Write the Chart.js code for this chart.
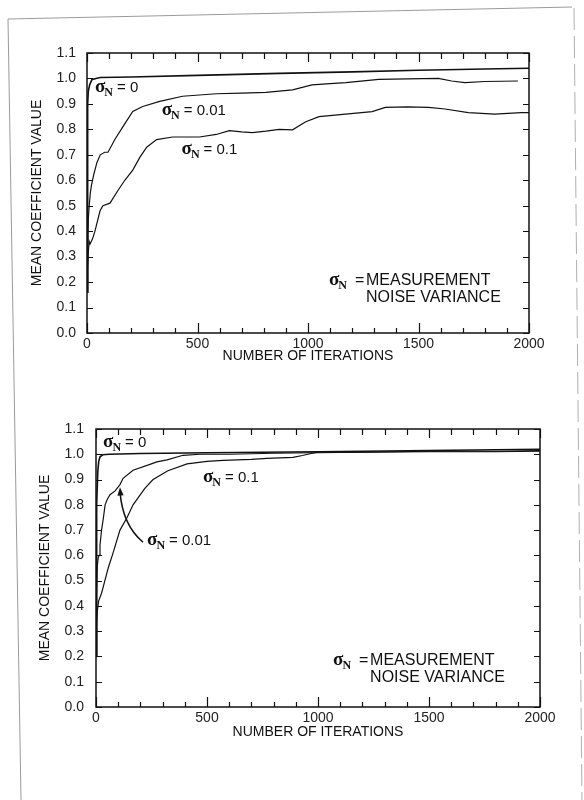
<!DOCTYPE html>
<html><head><meta charset="utf-8">
<script src="https://cdn.jsdelivr.net/npm/chart.js@4/dist/chart.umd.min.js"></script>
<style>
html,body{margin:0;padding:0;background:#fff;}
#wrap{position:relative;width:584px;height:800px;overflow:hidden;background:#fff;}
canvas{position:absolute;left:0;}
#c1{top:0;}
#c2{top:400px;}
svg{position:absolute;left:0;top:0;}
</style></head><body>
<div id="wrap">
<svg width="584" height="800">
  <line x1="8" y1="19" x2="572" y2="7" stroke="#9a9a9a" stroke-width="1"/>
  <line x1="8" y1="19" x2="21" y2="800" stroke="#9a9a9a" stroke-width="1"/>
  <line x1="574" y1="8" x2="582" y2="800" stroke="#b0b0b0" stroke-width="1" stroke-dasharray="22,6"/>
</svg>
<canvas id="c1" width="584" height="400"></canvas>
<canvas id="c2" width="584" height="400"></canvas>
</div>
<script>
// ---------- tick labels ----------
const xTickValues = [0, 500, 1000, 1500, 2000];
const xTickLabels = ['0', '500', '1000', '1500', '2000'];
const yTickValues = [0, 0.1, 0.2, 0.3, 0.4, 0.5, 0.6, 0.7, 0.8, 0.9, 1.0, 1.1];
const yTickLabels = ['0.0','0.1','0.2','0.3','0.4','0.5','0.6','0.7','0.8','0.9','1.0','1.1'];

// ---------- top chart series ----------
const topIterS0 = [0, 2, 4, 6, 12, 22, 40, 60, 200, 500, 870, 1200, 1500, 1800, 2000];
const topValS0  = [0.16, 0.55, 0.9, 0.95, 0.975, 0.995, 1.0, 1.004, 1.006, 1.012, 1.02, 1.026, 1.032, 1.037, 1.04];

const topIterS1 = [0, 3, 6, 10, 15, 20, 30, 45, 60, 80, 95, 126, 162, 207, 252, 329, 432, 585, 700, 810, 870, 930, 1018, 1100, 1171, 1320, 1450, 1590, 1650, 1710, 1800, 1950];
const topValS1  = [0.16, 0.3, 0.45, 0.5, 0.55, 0.58, 0.62, 0.67, 0.7, 0.71, 0.71, 0.76, 0.81, 0.87, 0.89, 0.91, 0.93, 0.94, 0.942, 0.945, 0.95, 0.955, 0.975, 0.98, 0.984, 0.996, 0.998, 1.0, 0.99, 0.984, 0.988, 0.99];

const topIterS2 = [0, 3, 6, 10, 14, 25, 36, 59, 72, 104, 140, 171, 207, 239, 270, 315, 387, 509, 585, 644, 700, 748, 810, 870, 930, 990, 1050, 1170, 1290, 1350, 1450, 1545, 1620, 1725, 1845, 1965, 2000];
const topValS2  = [0.16, 0.25, 0.32, 0.36, 0.35, 0.37, 0.4, 0.48, 0.5, 0.51, 0.56, 0.6, 0.64, 0.69, 0.73, 0.76, 0.77, 0.77, 0.78, 0.795, 0.79, 0.787, 0.793, 0.8, 0.798, 0.83, 0.85, 0.86, 0.87, 0.886, 0.888, 0.886, 0.88, 0.866, 0.86, 0.866, 0.866];

// ---------- bottom chart series ----------
const botIterS0 = [0, 2, 4, 8, 12, 18, 30, 60, 200, 500, 1000, 1500, 2000];
const botValS0  = [0.2, 0.5, 0.8, 0.93, 0.97, 0.99, 0.998, 1.0, 1.003, 1.006, 1.01, 1.015, 1.02];

const botIterS1 = [0, 3, 6, 10, 14, 18, 25, 32, 41, 50, 63, 86, 108, 122, 167, 243, 274, 320, 392, 468, 600, 800, 1000, 1200, 1500, 1800, 2000];
const botValS1  = [0.2, 0.45, 0.56, 0.59, 0.6, 0.64, 0.7, 0.74, 0.8, 0.82, 0.84, 0.855, 0.88, 0.905, 0.937, 0.96, 0.97, 0.978, 0.996, 1.0, 1.0, 1.004, 1.006, 1.008, 1.01, 1.01, 1.012];

const botIterS2 = [0, 3, 6, 12, 25, 40, 55, 77, 108, 140, 167, 220, 257, 324, 410, 500, 572, 700, 770, 887, 930, 964, 1000, 1200, 1500, 1800, 2000];
const botValS2  = [0.2, 0.33, 0.38, 0.42, 0.45, 0.5, 0.55, 0.61, 0.7, 0.75, 0.8, 0.865, 0.9, 0.935, 0.962, 0.972, 0.976, 0.98, 0.984, 0.988, 0.995, 1.002, 1.008, 1.008, 1.012, 1.012, 1.015];

// ---------- series labels ----------
const seriesNames = ['σN = 0', 'σN = 0.01', 'σN = 0.1'];
const labelTexts = ['= 0', '= 0.01', '= 0.1'];

function pts(xs, ys) { return xs.map((x, i) => ({x: x, y: ys[i]})); }

const SANS = '"Liberation Sans", Arial, Helvetica, sans-serif';
const SERIF = '"Liberation Serif", "Times New Roman", serif';

function sigmaLabel(ctx, x, y, rest, restFont, gap) {
  ctx.save();
  ctx.fillStyle = '#111';
  ctx.textAlign = 'left';
  ctx.textBaseline = 'alphabetic';
  ctx.font = 'bold 19px ' + SERIF;
  ctx.fillText('σ', x, y);
  const w1 = ctx.measureText('σ').width;
  ctx.font = 'bold 12px ' + SERIF;
  ctx.fillText('N', x + w1 - 1, y + 4);
  const w2 = ctx.measureText('N').width;
  ctx.font = restFont;
  ctx.fillText(rest, x + w1 - 1 + w2 + gap, y);
  ctx.restore();
}

const framePlugin = {
  id: 'frame',
  afterDatasetsDraw(chart, args, opts) {
    const ctx = chart.ctx;
    const xs = chart.scales.x, ys = chart.scales.y;
    const a = chart.chartArea;
    ctx.save();
    ctx.strokeStyle = '#111';
    ctx.lineWidth = 1.5;
    ctx.strokeRect(a.left, a.top, a.right - a.left, a.bottom - a.top);
    ctx.lineWidth = 1.2;
    ctx.beginPath();
    for (let v = 0; v <= 2000; v += 100) {
      const px = Math.round(xs.getPixelForValue(v)) + 0.5;
      const major = v % 500 === 0;
      const lb = major ? 10 : 5, lt = major ? 9 : 6;
      ctx.moveTo(px, a.bottom); ctx.lineTo(px, a.bottom - lb);
      ctx.moveTo(px, a.top); ctx.lineTo(px, a.top + lt);
    }
    for (let k = 0; k <= 11; k++) {
      const py = Math.round(ys.getPixelForValue(k / 10)) + 0.5;
      ctx.moveTo(a.left, py); ctx.lineTo(a.left + 6, py);
      ctx.moveTo(a.right, py); ctx.lineTo(a.right - 6, py);
    }
    ctx.stroke();

    (opts.labels || []).forEach(l => {
      const px = xs.getPixelForValue(l.iter), py = ys.getPixelForValue(l.val);
      sigmaLabel(ctx, px, py, l.text, '15px ' + SANS, 4);
    });

    if (opts.legend) {
      const l = opts.legend;
      const px = xs.getPixelForValue(l.iter), py = ys.getPixelForValue(l.val);
      sigmaLabel(ctx, px, py, '', '16px ' + SANS, 0);
      ctx.fillStyle = '#111';
      ctx.font = '16px ' + SANS;
      ctx.textAlign = 'left';
      ctx.textBaseline = 'alphabetic';
      ctx.fillText('=', px + 26, py);
      ctx.fillText('MEASUREMENT', px + 37, py);
      ctx.fillText('NOISE VARIANCE', px + 37, py + 17);
    }

    if (opts.arrow) {
      const r = opts.arrow;
      const tx = xs.getPixelForValue(r.tail[0]), ty = ys.getPixelForValue(r.tail[1]);
      const cx = xs.getPixelForValue(r.ctrl[0]), cy = ys.getPixelForValue(r.ctrl[1]);
      const hx = xs.getPixelForValue(r.tip[0]), hy = ys.getPixelForValue(r.tip[1]);
      ctx.strokeStyle = '#111';
      ctx.lineWidth = 1.5;
      ctx.beginPath();
      ctx.moveTo(tx, ty);
      ctx.quadraticCurveTo(cx, cy, hx, hy + 4);
      ctx.stroke();
      const ang = Math.atan2(hy - cy, hx - cx);
      ctx.fillStyle = '#111';
      ctx.beginPath();
      ctx.moveTo(hx, hy);
      ctx.lineTo(hx - 9 * Math.cos(ang - 0.35), hy - 9 * Math.sin(ang - 0.35));
      ctx.lineTo(hx - 9 * Math.cos(ang + 0.35), hy - 9 * Math.sin(ang + 0.35));
      ctx.closePath();
      ctx.fill();
    }
    ctx.restore();
  }
};

function makeChart(id, series, geo, frameOpts) {
  const ds = series.map((s, i) => ({
    label: seriesNames[i],
    data: pts(s[0], s[1]),
    borderColor: '#111',
    borderWidth: i === 0 ? 1.6 : 1.2,
    pointRadius: 0,
    tension: 0,
    fill: false
  }));
  return new Chart(document.getElementById(id), {
    type: 'line',
    data: { datasets: ds },
    plugins: [framePlugin],
    options: {
      responsive: false,
      animation: false,
      devicePixelRatio: 1,
      layout: { padding: { left: geo.padL, right: geo.padR, top: geo.padT, bottom: geo.padB } },
      plugins: { legend: { display: false }, tooltip: { enabled: false }, frame: frameOpts },
      scales: {
        x: {
          type: 'linear', min: 0, max: 2000,
          grid: { display: false, drawTicks: false },
          border: { display: false },
          afterBuildTicks: s => { s.ticks = xTickValues.map(v => ({ value: v })); },
          ticks: { color: '#222', font: { family: SANS, size: 14 }, padding: 3, maxRotation: 0,
                   callback: (v) => xTickLabels[xTickValues.indexOf(v)] },
          title: { display: true, text: 'NUMBER OF ITERATIONS', color: '#111',
                   font: { family: SANS, size: 14 }, padding: { top: 0, bottom: geo.xtPad } },
          afterFit: s => { s.height = geo.xH; }
        },
        y: {
          type: 'linear', min: 0, max: 1.1,
          grid: { display: false, drawTicks: false },
          border: { display: false },
          afterBuildTicks: s => { s.ticks = yTickValues.map(v => ({ value: v })); },
          ticks: { color: '#222', font: { family: SANS, size: 14 }, padding: geo.ytPad,
                   callback: (v) => yTickLabels[yTickValues.findIndex(t => Math.abs(t - v) < 1e-6)] },
          title: { display: true, text: 'MEAN COEFFICIENT VALUE', color: '#111',
                   font: { family: SANS, size: 14 }, padding: { top: 4, bottom: 0 } },
          afterFit: s => { s.width = geo.yW; }
        }
      }
    }
  });
}

makeChart('c1',
  [[topIterS0, topValS0], [topIterS1, topValS1], [topIterS2, topValS2]],
  { padL: 25, padR: 55, padT: 53, padB: 30, xH: 37, xtPad: 5, yW: 62, ytPad: 11 },
  {
    labels: [
      { iter: 36, val: 0.945, text: labelTexts[0] },
      { iter: 338, val: 0.858, text: labelTexts[1] },
      { iter: 428, val: 0.704, text: labelTexts[2] }
    ],
    legend: { iter: 1095, val: 0.19 }
  });

makeChart('c2',
  [[botIterS0, botValS0], [botIterS1, botValS1], [botIterS2, botValS2]],
  { padL: 33, padR: 44, padT: 29, padB: 55, xH: 38, xtPad: 4, yW: 63, ytPad: 12 },
  {
    labels: [
      { iter: 32, val: 1.027, text: labelTexts[0] },
      { iter: 482, val: 0.889, text: labelTexts[2] },
      { iter: 230, val: 0.64, text: labelTexts[1] }
    ],
    legend: { iter: 1068, val: 0.167 },
    arrow: { tail: [212, 0.652], ctrl: [119, 0.72], tip: [108, 0.87] }
  });
</script>
</body></html>
